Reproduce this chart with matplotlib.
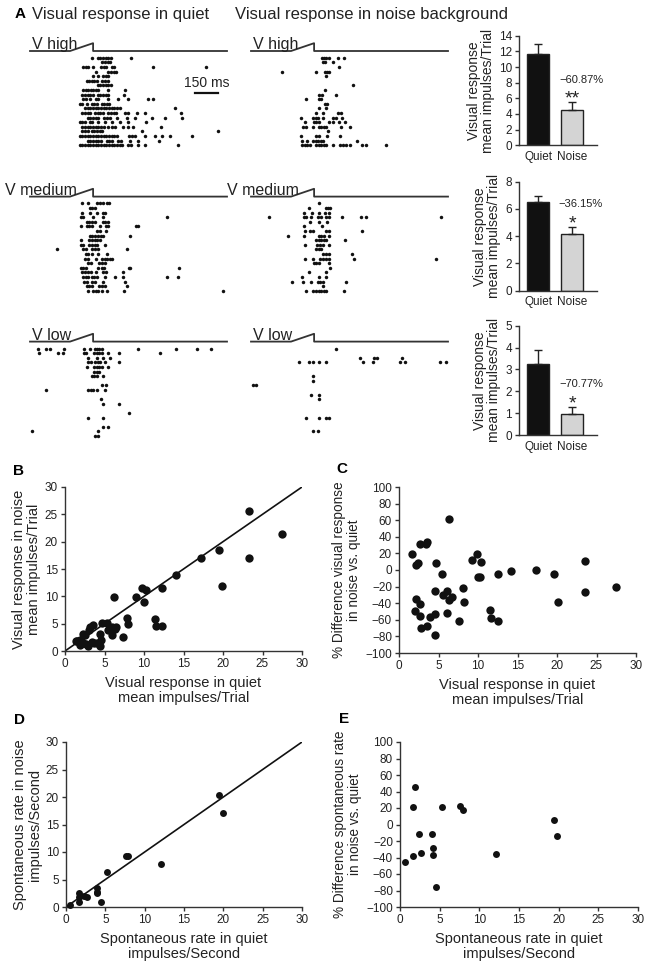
import numpy as np
import matplotlib
matplotlib.use('Agg')
import matplotlib.pyplot as plt

plt.rcParams['font.family'] = ['Liberation Sans', 'DejaVu Sans']
plt.rcParams['axes.unicode_minus'] = True

W, H = 649, 969
fig = plt.figure(figsize=(W / 100, H / 100), dpi=100)

# ---- data -------------------------------------------------------------
# stimulus sweep (ms): ramp 150 ms, whole trace ~1280 ms
sweep_end = 1280
ramp_on = 260
ramp_off = 410
scale_bar_ms = 150

# spike rasters, one list of spike times (ms) per trial, top to bottom
quiet_high = [
    [405, 440, 455, 475, 495, 505, 525, 655],
    [470, 490, 505, 520],
    [345, 365, 380, 410, 460, 480, 495, 535, 545, 800, 1145],
    [430, 505, 525, 545, 560],
    [410, 440, 475, 495, 505],
    [370, 385, 400, 415, 435, 470, 490, 505],
    [440, 455, 475, 495, 505, 525],
    [345, 365, 380, 395, 410, 430, 440, 505, 620],
    [340, 360, 375, 390, 410, 440, 455, 475, 495, 505, 610],
    [345, 365, 390, 430, 440, 505, 570, 635, 765, 800],
    [325, 340, 370, 400, 415, 435, 470, 480, 500, 515],
    [360, 375, 390, 410, 430, 440, 460, 480, 495, 515, 535, 545, 565, 585, 945],
    [340, 360, 375, 390, 425, 440, 455, 475, 505, 525, 545, 560, 620, 635, 695, 750, 980],
    [375, 390, 410, 430, 440, 480, 500, 520, 565, 630, 680, 795, 880, 990],
    [325, 340, 360, 390, 405, 440, 490, 535, 585, 635, 755],
    [340, 360, 375, 390, 410, 430, 440, 460, 480, 505, 535, 555, 605, 635, 670, 850],
    [340, 360, 375, 400, 415, 435, 455, 470, 730, 1220],
    [325, 340, 360, 375, 390, 410, 430, 440, 460, 480, 495, 515, 535, 545, 565,
     645, 665, 685, 750, 815, 860, 910, 1055],
    [375, 390, 410, 430, 440, 460, 500, 515, 535, 570, 590, 650, 700, 840],
    [325, 340, 360, 375, 390, 410, 430, 440, 460, 480, 495, 515, 535, 545, 565,
     585, 600, 635, 655, 700, 750, 960],
]
noise_high = [
    [460, 475, 490, 505, 565, 605],
    [465, 480, 530],
    [570],
    [200, 420, 480, 495, 510],
    [485],
    [],
    [660],
    [480],
    [445, 460, 550],
    [355, 440, 455],
    [480, 495],
    [445, 490],
    [425, 465, 565, 585],
    [325, 400, 420, 435, 465, 530, 555, 590],
    [350, 410, 425, 440, 505, 535, 570, 610],
    [340, 360, 405, 440, 455, 475, 490, 585, 640],
    [500],
    [325, 425, 445, 495, 580],
    [330, 365, 400, 420, 435, 455, 470, 690],
    [330, 350, 365, 385, 425, 440, 455, 475, 490, 535, 580, 595, 615, 645, 720, 745, 880],
]
quiet_medium = [
    [335, 380, 435, 455, 475, 500, 515],
    [390, 405, 425],
    [340, 390, 435, 475, 490],
    [330, 345, 410, 475, 890],
    [370, 385, 405, 420, 475, 490, 505],
    [330, 370, 385, 405, 455, 495, 510, 690, 700],
    [435, 455, 495],
    [390, 405, 425, 440, 460, 475, 650],
    [330, 385, 405, 420, 435, 455],
    [330, 345, 385, 405, 420, 435, 490],
    [175, 345, 365, 405, 425, 445, 630],
    [365, 380, 400, 440, 500],
    [360, 375, 430, 465, 485, 500, 520, 535],
    [380, 395, 450, 470, 485],
    [330, 345, 365, 445, 465, 480, 640, 650, 970],
    [340, 360, 375, 395, 430, 475, 495, 605],
    [345, 365, 380, 400, 415, 435, 490, 555, 605, 890, 960],
    [350, 370, 405, 425, 475, 615],
    [370, 385, 405, 450, 470, 485, 630],
    [380, 410, 430, 445, 465, 500, 610, 1255],
]
noise_medium = [
    [445],
    [380, 485, 500, 515],
    [345, 395, 445, 480, 505],
    [120, 345, 360, 390, 435, 455, 490, 510, 590, 715, 745, 1235],
    [385, 440, 495],
    [345, 460],
    [350, 385, 405, 485, 505, 720],
    [240, 345, 440, 455, 475, 505],
    [425, 440, 455, 475, 490, 610],
    [350, 430, 450, 465, 505],
    [425, 440, 455],
    [470, 490, 505, 655],
    [350, 405, 450, 465, 485, 510, 670, 1205],
    [410, 425, 445, 510],
    [515],
    [380, 490],
    [330, 440, 490],
    [265, 335, 390, 435, 450, 470, 620],
    [470],
    [360, 405, 425, 440, 455, 475, 490, 605],
]
quiet_low = [
    [50, 105, 130, 220, 350, 390, 420, 435, 450, 465, 700, 950, 1085, 1175],
    [60, 185, 215, 350, 365, 415, 435, 450, 465, 510, 580, 845],
    [375, 435, 475, 520],
    [380, 395, 425, 440, 455, 490, 580],
    [370, 415, 435, 450, 465, 510],
    [415, 435, 450],
    [400, 415, 435, 475],
    [],
    [465, 495],
    [105, 380, 395, 410, 435, 490],
    [],
    [460],
    [475, 580],
    [],
    [640],
    [380, 475],
    [],
    [475, 510],
    [10, 445],
    [425, 445],
]
noise_low = [
    [550],
    [],
    [705, 800, 820, 980],
    [315, 380, 400, 440, 485, 730, 790, 965, 1000, 1230, 1265],
    [],
    [],
    [400],
    [400],
    [15, 30],
    [],
    [390, 440],
    [445],
    [],
    [],
    [],
    [360, 445, 490, 505],
    [],
    [],
    [405, 435],
    [],
]

# bar summaries (mean impulses/trial)
bar_names = ['Quiet', 'Noise']
quiet_mean = [11.6, 6.5, 3.25]
quiet_sem = [1.3, 0.45, 0.65]
noise_mean = [4.5, 4.15, 0.95]
noise_sem = [1.0, 0.55, 0.35]
pct_change = ['\u221260.87%', '\u221236.15%', '\u221270.77%']
signif = ['**', '*', '*']
bar_ymax = [14, 8, 5]
bar_ystep = [2, 2, 1]

# B: visual response, quiet vs noise
b_quiet = [23.3, 27.5, 23.3, 19.5, 17.2, 19.9, 14.1, 12.3, 9.7, 10.2, 10.0, 9.0, 6.2,
           11.4, 11.5, 12.3, 7.9, 8.0, 7.4, 4.7, 5.3, 5.4, 5.9, 6.3, 6.5, 5.9, 4.4, 4.5,
           4.4, 3.2, 3.5, 3.0, 2.3, 2.5, 1.9, 1.5, 2.1, 2.3, 1.9, 2.7, 2.9, 3.7, 3.4, 4.0, 1.4]
b_noise = [25.7, 21.4, 17.0, 18.4, 17.0, 11.9, 13.9, 11.6, 11.6, 11.1, 9.0, 9.9, 9.9,
           5.8, 4.6, 4.6, 6.1, 4.9, 2.6, 5.1, 5.1, 3.8, 4.4, 4.1, 4.3, 2.9, 3.2, 2.0,
           1.0, 4.4, 4.7, 3.8, 3.2, 2.9, 2.1, 1.9, 1.6, 1.4, 1.1, 1.2, 1.0, 1.5, 1.7, 1.5, 1.9]

# C: % difference of visual response
c_quiet = [1.6, 2.2, 2.4, 2.6, 3.4, 3.5, 4.7, 5.4, 6.3, 2.1, 2.0, 2.7, 2.7, 2.8, 3.5,
           3.9, 4.5, 4.6, 4.6, 5.6, 6.1, 6.1, 6.3, 6.7, 7.6, 8.1, 8.2, 9.2, 9.9, 10.4,
           10.0, 10.2, 11.5, 11.7, 12.5, 12.5, 14.2, 17.3, 19.6, 20.1, 23.5, 23.5, 27.5]
c_pct = [19, 6, 8, 31, 31, 34, 9, -5, 61, -35, -49, -41, -56, -70, -68,
         -57, -78, -25, -53, -30, -25, -52, -36, -33, -62, -22, -38, 12, 19, 10,
         -8, -9, -48, -58, -62, -5, -1, 0, -5, -39, 11, -26, -21]

# D: spontaneous rate, quiet vs noise
d_quiet = [0.5, 1.6, 1.7, 1.6, 2.3, 2.7, 3.9, 4.0, 4.0, 4.5, 5.2, 7.6, 7.9, 12.1, 19.4, 19.9]
d_noise = [0.3, 1.9, 2.5, 1.0, 2.0, 1.8, 3.4, 2.8, 2.5, 1.0, 6.3, 9.3, 9.2, 7.8, 20.4, 17.1]

# E: % difference of spontaneous rate
e_quiet = [0.6, 1.7, 1.85, 1.7, 2.4, 2.7, 4.0, 4.15, 4.1, 4.6, 5.3, 7.6, 7.97, 12.1, 19.4, 19.85]
e_pct = [-46, 21, 45, -38, -12, -34, -12, -29, -37, -76, 21, 23, 17, -36, 6, -14]

# ---- helpers ----------------------------------------------------------
TXT = '#222222'
LINE = '#333333'


def px_axes(x0, y0, x1, y1):
    return fig.add_axes([x0 / W, 1 - y1 / H, (x1 - x0) / W, (y1 - y0) / H])


def raster(x0, row0, rows, label, label_t):
    # 4.6 px per trial row
    ax = px_axes(x0, row0 - 3.6 * 4.6, x0 + 197, row0 + 19.7 * 4.6)
    for i, r in enumerate(rows):
        ax.plot(r, [i] * len(r), 'o', ms=2.5, mew=0, color='#111111', clip_on=False)
    base, top = -1.5, -3.2
    ax.plot([0, ramp_on, ramp_off, ramp_off, sweep_end], [base, base, top, base, base],
            color=LINE, lw=1.3, clip_on=False)
    ax.text(label_t, base - 0.35, label, fontsize=11.5, color=TXT, va='baseline', ha='left')
    ax.set_xlim(0, sweep_end)
    ax.set_ylim(19.7, -3.6)
    ax.axis('off')
    return ax


def style(ax):
    for s in ['top', 'right']:
        ax.spines[s].set_visible(False)
    for s in ['left', 'bottom']:
        ax.spines[s].set_color(LINE)
        ax.spines[s].set_linewidth(1.0)
    ax.tick_params(direction='out', length=3, width=1, color=LINE,
                   labelsize=8.5, labelcolor=TXT, pad=2)


# ---- panel A: rasters ------------------------------------------------
fig.text(15 / W, 1 - 14 / H, 'A', fontsize=11, fontweight='bold', va='center')
fig.text(32 / W, 1 - 14 / H, 'Visual response in quiet', fontsize=12, color=TXT, va='center')
fig.text(235 / W, 1 - 14 / H, 'Visual response in noise background', fontsize=12,
         color=TXT, va='center')

ax = raster(30, 57.9, quiet_high, 'V high', 13)
ax.plot([1222 - scale_bar_ms, 1222], [7.6, 7.6], color='#111111', lw=1.6, clip_on=False)
ax.text(1150, 5.4, '150 ms', fontsize=10, color=TXT, ha='center', va='center')
raster(251, 57.9, noise_high, 'V high', 13)
raster(30, 203.5, quiet_medium, 'V medium', -163)
raster(251, 203.5, noise_medium, 'V medium', -156)
raster(30, 348.5, quiet_low, 'V low', 13)
raster(251, 348.5, noise_low, 'V low', 13)

# ---- panel A: bars ----------------------------------------------------
bar_boxes = [(35.7, 145.3), (181.7, 290.7), (325.7, 435.0)]
pos = np.array([0, 1])
for k, (ya, yb) in enumerate(bar_boxes):
    ax = px_axes(519, ya, 597, yb)
    vals = [quiet_mean[k], noise_mean[k]]
    errs = [quiet_sem[k], noise_sem[k]]
    ax.bar(pos, vals, width=0.65, color=['#111111', '#d4d4d4'], edgecolor='#222222',
           lw=1.0, zorder=2)
    ax.errorbar(pos, vals, yerr=[[0, 0], errs], fmt='none', ecolor='#222222',
                elinewidth=1.0, capsize=3, capthick=1.0, zorder=3)
    top = noise_mean[k] + noise_sem[k]
    ax.annotate(signif[k], (1, top), xytext=(0, -1), textcoords='offset points',
                ha='center', va='baseline', fontsize=14, color=TXT)
    ax.annotate(pct_change[k], (1.26, top), xytext=(0, 14), textcoords='offset points',
                ha='center', va='baseline', fontsize=8, color=TXT)
    ax.set_xlim(-0.56, 1.73)
    ax.set_ylim(0, bar_ymax[k])
    ax.set_yticks(np.arange(0, bar_ymax[k] + 0.1, bar_ystep[k]))
    ax.set_xticks(pos)
    ax.set_xticklabels(bar_names)
    style(ax)
    ax.tick_params(axis='x', length=0, pad=4)
    ax.set_ylabel('Visual response\nmean impulses/Trial', fontsize=10, color=TXT,
                  labelpad=3, linespacing=1.0)


# ---- panels B-E: scatter ----------------------------------------------
def scatter_panel(box, xs, ys, ylim, yticks, xlabel, ylabel, diag, ms, ysize):
    ax = px_axes(*box)
    if diag:
        ax.plot([0, 30], [0, 30], color='#111111', lw=1.2, zorder=1)
    ax.plot(xs, ys, 'o', ms=ms, mew=0, color='#111111', clip_on=False, zorder=3)
    ax.set_xlim(0, 30)
    ax.set_ylim(*ylim)
    ax.set_xticks(np.arange(0, 31, 5))
    ax.set_yticks(yticks)
    style(ax)
    ax.set_xlabel(xlabel, fontsize=10.5, color=TXT, labelpad=4, linespacing=1.1)
    ax.set_ylabel(ylabel, fontsize=ysize, color=TXT, labelpad=3, linespacing=1.1)
    return ax


vis_x = 'Visual response in quiet\nmean impulses/Trial'
spo_x = 'Spontaneous rate in quiet\nimpulses/Second'

scatter_panel((65, 487, 302, 651), b_quiet, b_noise, (0, 30), np.arange(0, 31, 5),
              vis_x, 'Visual response in noise\nmean impulses/Trial', True, 6, 10.5)
scatter_panel((399, 487, 636, 653), c_quiet, c_pct, (-100, 100), np.arange(-100, 101, 20),
              vis_x, '% Difference visual response\nin noise vs. quiet', False, 6, 9.8)
scatter_panel((66, 742, 302, 907), d_quiet, d_noise, (0, 30), np.arange(0, 31, 5),
              spo_x, 'Spontaneous rate in noise\nimpulses/Second', True, 5, 10.5)
scatter_panel((400, 742, 638, 907), e_quiet, e_pct, (-100, 100), np.arange(-100, 101, 20),
              spo_x, '% Difference spontaneous rate\nin noise vs. quiet', False, 5, 9.8)

for letter, x, y in [('B', 13, 471), ('C', 336, 469), ('D', 14, 720), ('E', 339, 719)]:
    fig.text(x / W, 1 - y / H, letter, fontsize=11, fontweight='bold', va='center')

fig.savefig('out.png', dpi=100)
